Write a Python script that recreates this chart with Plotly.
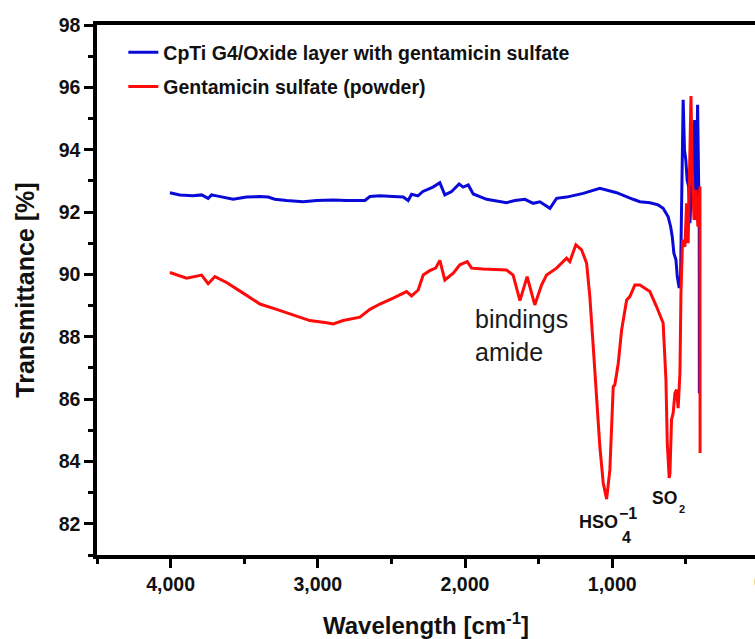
import plotly.graph_objects as go

# FTIR spectra (wavenumber in cm^-1, transmittance in %)
oxide_wn = [4005, 3937, 3849, 3789, 3745, 3722, 3688, 3654, 3620, 3575, 3484, 3393,
            3337, 3292, 3212, 3099, 3008, 2895, 2805, 2680, 2646, 2578, 2488, 2420,
            2386, 2363, 2320, 2286, 2218, 2171, 2137, 2091, 2040, 2012, 1978, 1944,
            1853, 1718, 1661, 1593, 1537, 1491, 1423, 1378, 1310, 1197, 1084, 970,
            858, 812, 744, 688, 654, 620, 603, 592, 581, 567, 558, 545, 536, 527,
            518, 509, 500, 491, 481, 472, 461, 450, 440, 431, 420, 413, 409, 408]
oxide_t = [92.62, 92.55, 92.52, 92.55, 92.44, 92.55, 92.52, 92.48, 92.44, 92.41, 92.48, 92.50,
           92.48, 92.41, 92.37, 92.33, 92.37, 92.39, 92.37, 92.37, 92.50, 92.52, 92.50, 92.48,
           92.37, 92.57, 92.52, 92.66, 92.80, 92.94, 92.55, 92.66, 92.90, 92.80, 92.87, 92.58,
           92.41, 92.30, 92.37, 92.41, 92.28, 92.33, 92.12, 92.44, 92.48, 92.60, 92.76, 92.62,
           92.41, 92.33, 92.30, 92.23, 92.12, 91.85, 91.53, 91.21, 90.68, 90.47, 89.93, 89.56,
           89.82, 92.17, 95.60, 93.99, 93.67, 93.03, 92.82, 91.64, 92.71, 93.57, 94.95, 91.75,
           95.44, 93.03, 91.96, 86.19]

powder_wn = [4005, 3891, 3789, 3745, 3699, 3665, 3620, 3507, 3393, 3280, 3167, 3054,
             2940, 2895, 2828, 2714, 2646, 2578, 2488, 2397, 2363, 2318, 2284, 2240,
             2200, 2171, 2137, 2080, 2035, 1985, 1955, 1877, 1718, 1673, 1627, 1578,
             1526, 1480, 1446, 1378, 1310, 1288, 1247, 1208, 1174, 1152, 1129, 1106,
             1084, 1061, 1038, 1016, 993, 982, 959, 936, 902, 880, 846, 812, 744, 699,
             665, 654, 635, 626, 613, 608, 597, 586, 574, 563, 552, 540, 533, 522, 506,
             495, 484, 472, 465, 456, 444, 431, 418, 404, 403]
powder_t = [90.06, 89.88, 89.98, 89.70, 89.93, 89.85, 89.74, 89.40, 89.05, 88.88, 88.70, 88.52,
            88.45, 88.41, 88.52, 88.63, 88.88, 89.05, 89.24, 89.45, 89.31, 89.50, 89.98, 90.12,
            90.20, 90.45, 89.82, 90.04, 90.31, 90.41, 90.20, 90.17, 90.14, 89.98, 89.16, 89.93,
            89.02, 89.66, 89.98, 90.20, 90.52, 90.41, 90.95, 90.79, 90.36, 89.29, 87.69, 86.08,
            84.48, 83.31, 82.79, 83.73, 86.40, 86.46, 87.15, 88.22, 89.18, 89.29, 89.66, 89.66,
            89.45, 88.97, 88.60, 88.44, 86.62, 84.59, 83.47, 83.60, 85.34, 85.55, 86.19, 86.30,
            85.71, 86.83, 89.40, 91.11, 90.89, 92.28, 91.00, 94.10, 95.72, 93.24, 91.75, 92.71,
            91.53, 92.82, 84.27]

series_names = ["CpTi G4/Oxide layer with gentamicin sulfate",
                "Gentamicin sulfate (powder)"]

x_ticks = [4000, 3000, 2000, 1000]

FONT = "Liberation Sans, Arial, sans-serif"

fig = go.Figure()
fig.add_trace(go.Scatter(x=oxide_wn, y=oxide_t, mode="lines", name=series_names[0],
                         legendgroup="a",
                         line=dict(color="#0a0ad8", width=3)))
fig.add_trace(go.Scatter(x=powder_wn, y=powder_t, mode="lines", name=series_names[1],
                         legendgroup="b",
                         line=dict(color="#ff0a0a", width=3)))

axis_common = dict(
    showline=True, linecolor="black", linewidth=3.5,
    ticks="outside", ticklen=9, tickwidth=3, tickcolor="black",
    showgrid=False, zeroline=False,
    tickfont=dict(family=FONT, size=19.5, color="#111", weight="bold"),
)

fig.update_xaxes(
    range=[4500, 30], tickvals=x_ticks, tickformat=",d", mirror=True,
    minor=dict(ticks="outside", ticklen=5, tickwidth=3, tickcolor="black",
               dtick=500, tick0=0, showgrid=False),
    title=dict(text="Wavelength [cm<sup>-1</sup>]", standoff=26,
               font=dict(family=FONT, size=24, color="#111", weight="bold")),
    **axis_common,
)
fig.update_yaxes(
    range=[81, 98], dtick=2, tick0=0, mirror=False,
    minor=dict(ticks="outside", ticklen=5, tickwidth=3, tickcolor="black",
               dtick=1, tick0=0, showgrid=False),
    title=dict(text="Transmittance [%]", standoff=18,
               font=dict(family=FONT, size=25, color="#111", weight="bold")),
    **axis_common,
)

bold_lbl = dict(family=FONT, color="#111", weight="bold")
fig.add_annotation(x=1947, y=88.03, xref="x", yref="y", text="bindings<br>amide",
                   showarrow=False, xanchor="left", yanchor="middle", align="left",
                   font=dict(family=FONT, size=25, color="#1a1a1a"))
fig.add_annotation(x=1094, y=82.07, text="HSO", showarrow=False,
                   font=dict(size=18, **bold_lbl))
fig.add_annotation(x=894, y=82.32, text="\u22121", showarrow=False,
                   font=dict(size=16, **bold_lbl))
fig.add_annotation(x=901, y=81.55, text="4", showarrow=False,
                   font=dict(size=16, **bold_lbl))
fig.add_annotation(x=646, y=82.82, text="SO", showarrow=False,
                   font=dict(size=17.5, **bold_lbl))
fig.add_annotation(x=527, y=82.48, text="2", showarrow=False,
                   font=dict(size=11, **bold_lbl))
# tick label for 0, centred just past the right edge of the plotting area
fig.add_annotation(x=1.0068, y=-0.051, xref="paper", yref="paper", text="0",
                   showarrow=False, xanchor="center", yanchor="middle",
                   font=dict(family=FONT, size=19.5, color="#8a5a2a", weight="bold"))

fig.update_layout(
    width=755, height=639,
    margin=dict(l=97, r=0, t=25, b=84),
    paper_bgcolor="white", plot_bgcolor="white",
    legend=dict(x=0.04, y=0.985, xanchor="left", yanchor="top",
                bgcolor="rgba(0,0,0,0)", tracegroupgap=6,
                font=dict(family=FONT, size=19.5, color="#111", weight="bold")),
    showlegend=True,
)

fig.write_html("out.html")
